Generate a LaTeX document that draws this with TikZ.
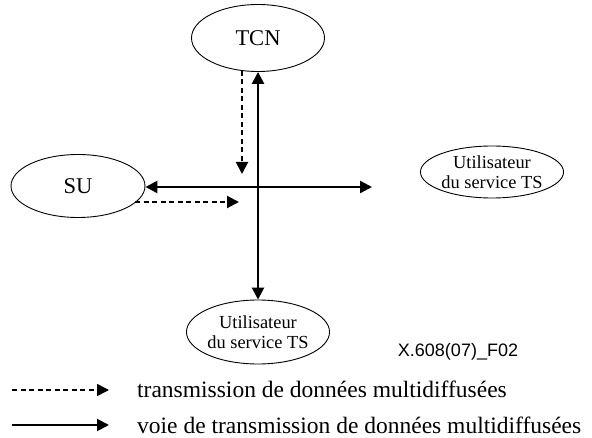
\documentclass[tikz,border=0pt]{standalone}
\usepackage{fontspec}
\setmainfont{Liberation Serif}
\newfontfamily\arialfont{Liberation Sans}
\usetikzlibrary{arrows.meta,shapes.geometric}
\begin{document}
\begin{tikzpicture}[x=1pt,y=-1pt,
  ell/.style={draw,ellipse,line width=0.9pt,inner sep=0pt},
  solidarrow/.style={line width=2.5pt,-{Triangle[length=12pt,width=12pt]}},
  dasharrow/.style={line width=2pt,dash pattern=on 5pt off 3.5pt,-{Triangle[length=12pt,width=12pt]}},
  both/.style={{Triangle[length=12pt,width=12pt]}-{Triangle[length=12pt,width=12pt]}}]
\useasboundingbox (0,0) rectangle (592,438);
\node[ell,minimum width=133pt,minimum height=67pt,font=\fontsize{22.5}{24}\selectfont] (tcn) at (258,38) {TCN};
\node[ell,minimum width=134pt,minimum height=63pt,font=\fontsize{22.5}{24}\selectfont] (su) at (78,186) {SU};
\node[ell,minimum width=121pt,minimum height=52pt,align=center,font=\fontsize{18.4}{20}\selectfont] (usr) at (492,172) {Utilisateur\\du service TS};
\node[ell,minimum width=132pt,minimum height=64pt,align=center,font=\fontsize{18.4}{20}\selectfont] (usb) at (258,332) {Utilisateur\\du service TS};
\node[font=\arialfont\fontsize{18}{20}\selectfont] (fig) at (458,352) {X.608(07)\_F02};
% connectors
\coordinate (hr) at (372,187);
\draw[solidarrow,both] (tcn.south) -- (usb.north);
\draw[solidarrow,both] (su.east |- hr) -- (hr);
\coordinate (dvs) at (242,71);
\coordinate (dve) at (242,174);
\draw[dasharrow] (dvs) -- (dve);
\coordinate (dhs) at (135,202);
\coordinate (dhe) at (239,202);
\draw[dasharrow] (dhs) -- (dhe);
% legend
\coordinate (l1s) at (12,390);
\coordinate (l1e) at (109,390);
\coordinate (l2s) at (12,425);
\coordinate (l2e) at (109,425);
\draw[dasharrow,line width=1.6pt,dash pattern=on 5pt off 3.5pt] (l1s) -- (l1e);
\draw[solidarrow,line width=2pt] (l2s) -- (l2e);
\node[anchor=base west,font=\fontsize{23.5}{26}\selectfont,inner sep=0pt] (t1) at (137,398) {transmission de données multidiffusées};
\node[anchor=base west,font=\fontsize{23.5}{26}\selectfont,inner sep=0pt] (t2) at (137,433) {voie de transmission de données multidiffusées};
\end{tikzpicture}
\end{document}
